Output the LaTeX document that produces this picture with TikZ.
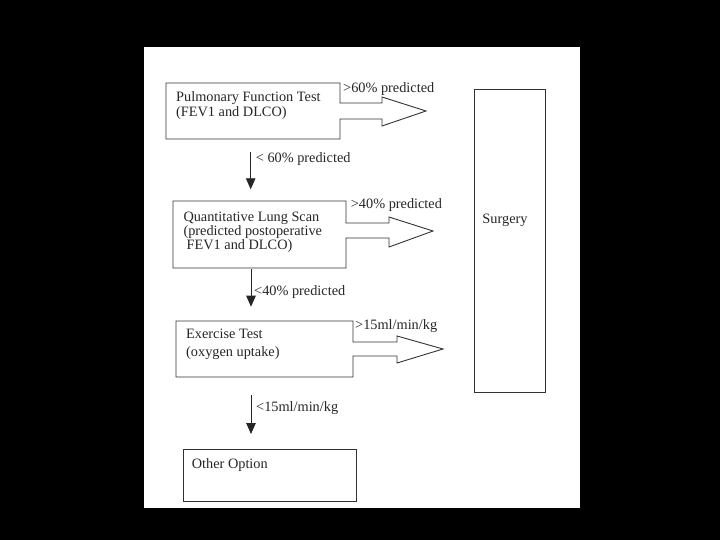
\documentclass[tikz,border=0pt]{standalone}
\usepackage{fontspec}
\setmainfont{Liberation Serif}
\usetikzlibrary{arrows.meta}
\begin{document}
\begin{tikzpicture}[x=1pt,y=-1pt,
  shapeline/.style={draw=black!80,line width=0.9pt,fill=white,line join=miter},
  txt/.style={inner sep=0pt,anchor=base west,text=black!85,font=\fontsize{14.3}{16}\selectfont},
  ctxt/.style={txt,anchor=base},
  downarrow/.style={draw=black!85,line width=0.9pt,-{Triangle[width=9.5pt,length=11pt]}}]
\useasboundingbox (0,0) rectangle (720,540);
\fill[black] (0,0) rectangle (720,540);
\fill[white] (144,47) rectangle (580,508);
% box-arrow shapes
\draw[shapeline] (166,83) -- (340,83) -- (340,103) -- (382,103) -- (382,97) -- (426,111) -- (382,126) -- (382,119) -- (340,119) -- (340,139) -- (166,139) -- cycle;
\draw[shapeline] (173,201) -- (346,201) -- (346,223) -- (389,223) -- (389,217) -- (433,231) -- (389,247) -- (389,238) -- (346,238) -- (346,268) -- (173,268) -- cycle;
\draw[shapeline] (176,321) -- (353,321) -- (353,342) -- (397,342) -- (397,336) -- (443,349) -- (397,363) -- (397,356) -- (353,356) -- (353,377) -- (176,377) -- cycle;
\draw[shapeline] (183,449) rectangle (356,501);
\draw[shapeline] (474,89) rectangle (545,392);
% texts
\node[txt] (p1) at (176,101.5) {Pulmonary Function Test};
\node[txt] (p2) at (176,116.5) {(FEV1 and DLCO)};
\node[txt] (q1) at (183.3,221.8) {Quantitative Lung Scan};
\node[txt] (q2) at (183.3,235.6) {(predicted postoperative};
\node[txt] (q3) at (186.5,249.2) {FEV1 and DLCO)};
\node[txt] (e1) at (186,338.3) {Exercise Test};
\node[txt] (e2) at (186,356.5) {(oxygen uptake)};
\node[txt] (o1) at (191.7,468) {Other Option};
\node[ctxt] (s1) at (505,224) {Surgery};
% labels
\node[txt] (l1) at (343,92.5) {>60\% predicted};
\node[txt] (l2) at (350.7,209) {>40\% predicted};
\node[txt] (l3) at (355,329.3) {>15ml/min/kg};
\node[txt] (d1) at (255.7,162.3) {< 60\% predicted};
\node[txt] (d2) at (254,295) {<40\% predicted};
\node[txt] (d3) at (256,411) {<15ml/min/kg};
% down arrows
\coordinate (a1s) at (250.7,151.7);
\coordinate (a1e) at (250.7,189.3);
\coordinate (a2s) at (251,269.3);
\coordinate (a2e) at (251,306.7);
\coordinate (a3s) at (251,395);
\coordinate (a3e) at (251,434);
\draw[downarrow] (a1s) -- (a1e);
\draw[downarrow] (a2s) -- (a2e);
\draw[downarrow] (a3s) -- (a3e);
\end{tikzpicture}
\end{document}
